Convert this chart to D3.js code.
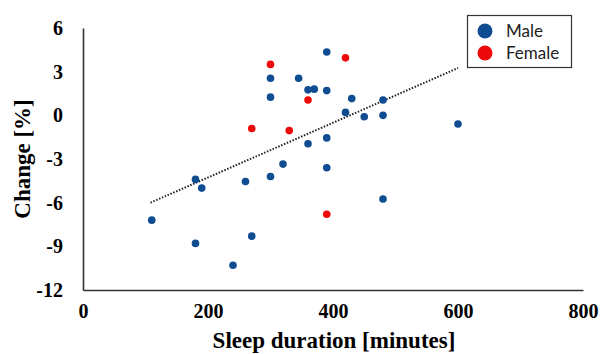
<!DOCTYPE html>
<html>
<head>
<meta charset="utf-8">
<script src="https://cdn.jsdelivr.net/npm/d3@7/dist/d3.min.js"></script>
<style>
  html, body { margin: 0; padding: 0; background: #fff; }
  svg { display: block; }
</style>
</head>
<body>
<svg id="chart" width="603" height="354"></svg>
<script>
// ---- data ----
const maleSleep  = [110, 180, 190, 180, 240, 270, 260, 300, 320, 300, 300, 345, 360, 370, 390, 390, 360, 390, 390, 430, 420, 450, 480, 480, 480, 600];
const maleChange = [-7.2, -4.4, -5.0, -8.8, -10.3, -8.3, -4.55, -4.2, -3.35, 2.55, 1.25, 2.55, 1.75, 1.8, 1.7, 4.35, -1.95, -1.55, -3.6, 1.15, 0.2, -0.1, 1.05, 0.0, -5.75, -0.6];
const femaleSleep  = [300, 420, 360, 270, 330, 390];
const femaleChange = [3.5, 3.95, 1.05, -0.9, -1.05, -6.8];
const trendSleep  = [108, 600];
const trendChange = [-6.0, 3.25];
const xTicks = [0, 200, 400, 600, 800];
const yTicks = [6, 3, 0, -3, -6, -9, -12];
const seriesNames = ["Male", "Female"];
const seriesColors = ["#0f4c92", "#ee0a0a"];

// ---- layout ----
const svg = d3.select("#chart");
const mLeft = 83, mRight = 583, mTop = 28, mBottom = 290;

const x = d3.scaleLinear().domain([0, 800]).range([mLeft, mRight]);
const y = d3.scaleLinear().domain([-12, 6]).range([mBottom, mTop]);

const serif = "'Liberation Serif', 'Times New Roman', serif";
const fmt = d => String(d);

// axes
const xAxis = d3.axisBottom(x).tickValues(xTicks).tickFormat(fmt).tickSize(0).tickPadding(14);
const gx = svg.append("g").attr("transform", `translate(0,${mBottom})`).call(xAxis);
gx.select(".domain").attr("stroke", "#333").attr("stroke-width", 1.6);
gx.selectAll(".tick text")
  .attr("font-family", serif).attr("font-weight", "bold").attr("font-size", 20)
  .attr("fill", "#000").attr("dy", "0.71em");

const yAxis = d3.axisLeft(y).tickValues(yTicks).tickFormat(fmt).tickSize(0).tickPadding(20);
const gy = svg.append("g").attr("transform", `translate(${mLeft},0)`).call(yAxis);
gy.select(".domain").attr("stroke", "#333").attr("stroke-width", 1.6);
gy.selectAll(".tick text")
  .attr("font-family", serif).attr("font-weight", "bold").attr("font-size", 20)
  .attr("fill", "#000");

// axis titles
svg.append("text")
  .attr("x", (mLeft + mRight) / 2 + 1).attr("y", 348)
  .attr("text-anchor", "middle")
  .attr("font-family", serif).attr("font-weight", "bold").attr("font-size", 23)
  .text("Sleep duration [minutes]");

svg.append("text")
  .attr("transform", `translate(30,${(mTop + mBottom) / 2}) rotate(-90)`)
  .attr("text-anchor", "middle")
  .attr("font-family", serif).attr("font-weight", "bold").attr("font-size", 23)
  .text("Change [%]");

// trend line
const trend = trendSleep.map((s, i) => ({ s, c: trendChange[i] }));
svg.append("path")
  .datum(trend)
  .attr("d", d3.line().x(d => x(d.s)).y(d => y(d.c)))
  .attr("fill", "none")
  .attr("stroke", "#222")
  .attr("stroke-width", 2)
  .attr("stroke-dasharray", "1.5 1.6");

// points
const male = maleSleep.map((s, i) => ({ s, c: maleChange[i] }));
const female = femaleSleep.map((s, i) => ({ s, c: femaleChange[i] }));

svg.append("g").selectAll("circle").data(male).join("circle")
  .attr("cx", d => x(d.s)).attr("cy", d => y(d.c)).attr("r", 3.8)
  .attr("fill", seriesColors[0]);
svg.append("g").selectAll("circle").data(female).join("circle")
  .attr("cx", d => x(d.s)).attr("cy", d => y(d.c)).attr("r", 3.8)
  .attr("fill", seriesColors[1]);

// legend
const lg = svg.append("g");
lg.append("rect")
  .attr("x", 467.5).attr("y", 15.5).attr("width", 104).attr("height", 52)
  .attr("fill", "#fff").attr("stroke", "#333").attr("stroke-width", 1.2);
seriesNames.forEach((name, i) => {
  const cy = 31 + i * 22;
  lg.append("circle").attr("cx", 485).attr("cy", cy).attr("r", 7.5).attr("fill", seriesColors[i]);
  lg.append("text").attr("x", 506).attr("y", cy + 6)
    .attr("font-family", "Lato, 'Open Sans', sans-serif").attr("font-size", 17)
    .attr("fill", "#222").text(name);
});
</script>
</body>
</html>
